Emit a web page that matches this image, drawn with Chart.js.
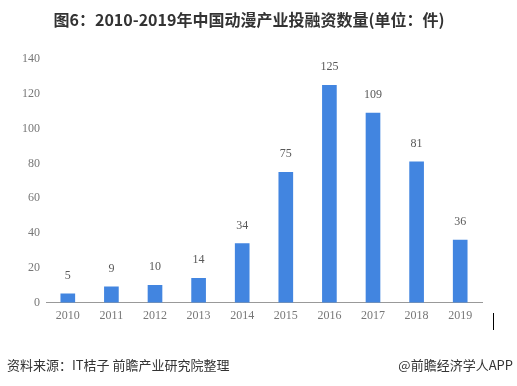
<!DOCTYPE html>
<html>
<head>
<meta charset="utf-8">
<script src="https://cdn.jsdelivr.net/npm/chart.js@4/dist/chart.umd.min.js"></script>
<style>
  body { margin: 0; background: #fff; }
  #wrap { position: relative; width: 517px; height: 386px; }
  #source { position: absolute; left: 7px; top: 355px; font: 13px "Noto Sans CJK SC", sans-serif; color: #333; }
  #brand { position: absolute; right: 4px; top: 355px; font: 13px "Noto Sans CJK SC", sans-serif; color: #333; }
  #cursor { position: absolute; left: 493px; top: 313px; width: 1px; height: 17px; background: #000; }
</style>
</head>
<body>
<div id="wrap">
  <canvas id="chart" width="517" height="386"></canvas>
  <div id="source">资料来源：IT桔子 前瞻产业研究院整理</div>
  <div id="brand">@前瞻经济学人APP</div>
  <div id="cursor"></div>
</div>
<script>
const years = ["2010", "2011", "2012", "2013", "2014", "2015", "2016", "2017", "2018", "2019"];
const deals = [5, 9, 10, 14, 34, 75, 125, 109, 81, 36];
const titleText = "图6：2010-2019年中国动漫产业投融资数量(单位：件)";

// value labels above each bar
const barLabels = {
  id: "barLabels",
  afterDatasetsDraw(chart) {
    const ctx = chart.ctx;
    const meta = chart.getDatasetMeta(0);
    ctx.save();
    ctx.font = "12px 'Liberation Serif', serif";
    ctx.fillStyle = "#595959";
    ctx.textAlign = "center";
    ctx.textBaseline = "bottom";
    meta.data.forEach((bar, i) => {
      ctx.fillText(deals[i], bar.x, bar.y - 12);
    });
    ctx.restore();
  }
};

new Chart(document.getElementById("chart").getContext("2d"), {
  type: "bar",
  data: {
    labels: years,
    datasets: [{
      data: deals,
      backgroundColor: "#4285e0",
      barThickness: 14
    }]
  },
  options: {
    responsive: false,
    animation: false,
    layout: { padding: { left: 16, right: 35, top: 10, bottom: 57 } },
    plugins: {
      legend: { display: false },
      tooltip: { enabled: false },
      title: {
        display: true,
        text: titleText,
        color: "#333",
        font: { size: 16, weight: "bold", family: "'Noto Sans CJK SC', sans-serif" },
        padding: { top: 0, bottom: 30 }
      }
    },
    scales: {
      x: {
        grid: { display: false, drawTicks: false },
        border: { display: true, color: "#999" },
        ticks: { color: "#777", padding: 6, font: { size: 12, family: "'Liberation Serif', serif" } }
      },
      y: {
        min: 0,
        max: 140,
        grid: { display: false, drawTicks: false },
        border: { display: false },
        ticks: { stepSize: 20, color: "#777", padding: 6, font: { size: 12, family: "'Liberation Serif', serif" } }
      }
    }
  },
  plugins: [barLabels]
});
</script>
</body>
</html>
